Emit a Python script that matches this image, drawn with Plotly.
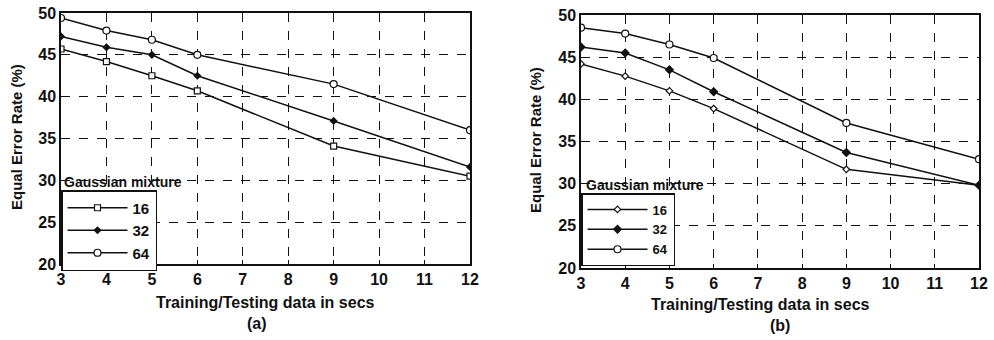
import plotly.graph_objects as go

# ---------------- data ----------------
x_secs = [3, 4, 5, 6, 9, 12]
a_16 = [45.7, 44.2, 42.5, 40.7, 34.1, 30.5]
a_32 = [47.2, 45.9, 45.0, 42.5, 37.1, 31.6]
a_64 = [49.4, 47.9, 46.8, 45.0, 41.5, 36.0]
b_16 = [44.2, 42.75, 41.0, 38.9, 31.7, 29.8]
b_32 = [46.2, 45.5, 43.5, 40.9, 33.7, 29.8]
b_64 = [48.5, 47.8, 46.5, 44.9, 37.2, 32.9]
mix_names = ["16", "32", "64"]
x_ticks = [3, 4, 5, 6, 7, 8, 9, 10, 11, 12]
y_ticks = [20, 25, 30, 35, 40, 45, 50]

FONT = "Arial, Liberation Sans, sans-serif"
BLK = "#111111"

fig = go.Figure()

def add(x, y, name, sym, size, xa, ya, leg, filled=False):
    fig.add_trace(go.Scatter(
        x=x, y=y, name=name, mode="lines+markers",
        xaxis=xa, yaxis=ya, legend=leg,
        line=dict(color=BLK, width=1.5),
        marker=dict(symbol=sym, size=size, color=BLK if filled else "white",
                    line=dict(color=BLK, width=1.2)),
    ))

add(x_secs, a_16, mix_names[0], "square", 6, "x", "y", "legend")
add(x_secs, a_32, mix_names[1], "diamond", 5, "x", "y", "legend", True)
add(x_secs, a_64, mix_names[2], "circle", 7, "x", "y", "legend")
add(x_secs, b_16, mix_names[0], "diamond", 5, "x2", "y2", "legend2")
add(x_secs, b_32, mix_names[1], "diamond", 6, "x2", "y2", "legend2", True)
add(x_secs, b_64, mix_names[2], "circle", 7, "x2", "y2", "legend2")

ax_common = dict(
    showline=True, mirror=True, linecolor=BLK, linewidth=1.5,
    showgrid=True, gridcolor=BLK, gridwidth=1.2, griddash="dash",
    zeroline=False, ticks="inside", ticklen=4, tickcolor=BLK,
    automargin=False,
    tickfont=dict(family=FONT, size=16, color=BLK, weight="bold"),
)

W, H = 994, 340
def px(x): return x / W
def py(y): return 1 - y / H

fig.update_layout(
    width=W, height=H,
    margin=dict(l=0, r=0, t=0, b=0),
    paper_bgcolor="white", plot_bgcolor="white",
    xaxis=dict(domain=[px(61), px(470)], range=[3, 12], tickvals=x_ticks,
               anchor="y", **ax_common),
    yaxis=dict(domain=[py(264), py(13)], range=[20, 50], tickvals=y_ticks,
               anchor="x", **ax_common),
    xaxis2=dict(domain=[px(581), px(979)], range=[3, 12], tickvals=x_ticks,
                anchor="y2", **ax_common),
    yaxis2=dict(domain=[py(268), py(15)], range=[20, 50], tickvals=y_ticks,
                anchor="x2", **ax_common),
    legend=dict(x=px(61), y=py(190), xanchor="left", yanchor="top",
                bgcolor="white", bordercolor=BLK, borderwidth=1.5,
                font=dict(family=FONT, size=15, color=BLK, weight="bold"),
                itemwidth=60, tracegroupgap=0),
    legend2=dict(x=px(581), y=py(193), xanchor="left", yanchor="top",
                 bgcolor="white", bordercolor=BLK, borderwidth=1.5,
                 font=dict(family=FONT, size=13, color=BLK, weight="bold"),
                 itemwidth=60, tracegroupgap=0),
    showlegend=True,
)

def ann(text, x, y, size=15, angle=0, weight="bold", xanchor="center"):
    fig.add_annotation(text=text, x=px(x), y=py(y), xref="paper", yref="paper",
                       showarrow=False, textangle=angle, xanchor=xanchor,
                       yanchor="middle",
                       font=dict(family=FONT, size=size, color=BLK, weight=weight))

ann("Training/Testing data in secs", 265, 302, size=16)
ann("(a)", 257, 323, size=16)
ann("Training/Testing data in secs", 760, 304, size=16)
ann("(b)", 780, 325, size=16)
ann("Equal Error Rate (%)", 16, 137, angle=-90)
ann("Equal Error Rate (%)", 535, 140, angle=-90)
ann("Gaussian mixture", 62, 182, size=14, xanchor="left")
ann("Gaussian mixture", 584, 185, size=14, xanchor="left")

fig.write_html(
    "out.html",
    config={"displayModeBar": False},
    post_script="document.body.style.margin='0';document.body.style.overflow='hidden';",
)
